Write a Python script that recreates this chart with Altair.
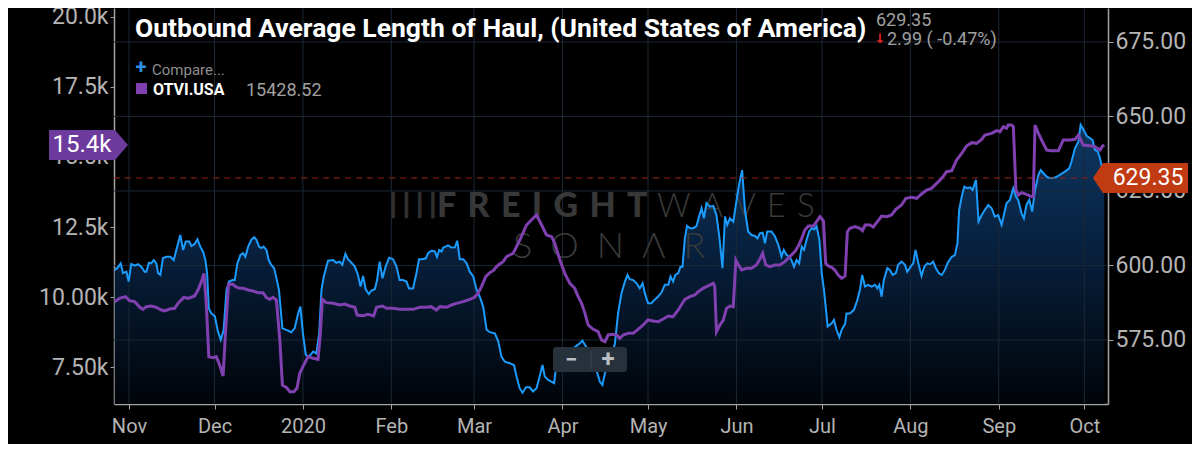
import altair as alt
import pandas as pd

# ---------------- data ----------------
BASE_DATE = "2019-11-01"   # day 0 of the day offsets below

LOH_DAYS = [
    -5.0, -4.2, -2.9, -2.1, -0.9, -0.1, 0.8, 2.0, 3.2, 4.3, 5.5, 6.1, 7.0, 7.8, 8.7, 9.6, 10.2, 11.0,
    11.9, 13.1, 14.5, 15.7, 16.6, 18.0, 19.0, 19.9, 21.1, 21.9, 23.0, 24.0, 25.0, 26.0, 26.8, 27.4,
    28.0, 28.9, 30.1, 31.2, 32.2, 33.2, 34.2, 35.1, 36.3, 37.1, 38.0, 39.1, 40.0, 40.8, 41.8, 42.9,
    43.9, 44.7, 45.6, 46.4, 47.2, 48.2, 49.0, 49.9, 50.9, 51.7, 52.6, 53.8, 55.2, 56.9, 58.1, 59.3,
    60.1, 61.0, 62.0, 63.1, 64.6, 65.7, 66.7, 67.5, 68.3, 69.8, 71.6, 72.7, 73.9, 74.8, 75.9, 76.8,
    78.0, 79.2, 80.3, 81.2, 82.1, 83.0, 84.1, 85.0, 86.2, 87.0, 87.9, 88.9, 90.0, 91.2, 92.6, 93.8,
    94.9, 96.1, 97.3, 98.2, 99.6, 100.8, 101.7, 102.9, 104.1, 105.0, 106.1, 107.2, 108.0, 108.8,
    109.6, 110.2, 111.0, 111.9, 113.1, 114.3, 115.1, 116.0, 117.2, 118.4, 119.5, 120.7, 121.9, 123.0,
    124.2, 125.4, 126.5, 128.3, 129.5, 130.6, 131.8, 133.5, 135.0, 135.9, 137.0, 138.0, 139.2, 140.5,
    141.7, 142.9, 144.0, 145.0, 145.8, 147.0, 148.1, 149.1, 149.9, 151.1, 152.2, 153.4, 154.6, 155.8,
    156.9, 158.1, 159.0, 160.2, 161.4, 162.8, 163.9, 165.1, 166.0, 166.9, 168.0, 169.2, 170.4, 171.5,
    172.7, 173.9, 174.8, 175.6, 176.8, 178.0, 179.1, 180.1, 180.9, 182.0, 183.2, 184.4, 185.5, 186.7,
    187.9, 189.1, 189.9, 190.8, 191.6, 192.6, 193.4, 194.1, 194.9, 195.7, 196.7, 197.8, 199.0, 199.9,
    200.8, 201.6, 202.5, 203.7, 204.9, 206.0, 207.0, 208.1, 209.0, 209.8, 210.7, 211.9, 212.8, 214.0,
    215.0, 216.0, 217.1, 218.3, 219.5, 220.4, 221.2, 222.2, 223.0, 223.8, 225.3, 226.5, 227.7, 228.8,
    229.6, 230.6, 231.5, 232.3, 233.2, 234.1, 235.0, 235.9, 236.7, 237.6, 238.5, 239.4, 240.3, 241.1,
    242.1, 242.9, 243.7, 245.0, 246.4, 247.2, 248.1, 249.1, 249.9, 251.1, 251.6, 252.8, 254.2, 255.4,
    256.3, 257.1, 258.1, 259.2, 260.4, 261.6, 262.4, 263.1, 263.9, 264.7, 265.9, 266.8, 267.8, 268.9,
    269.7, 270.9, 272.1, 272.9, 274.1, 275.0, 275.8, 276.8, 277.9, 278.9, 279.9, 280.9, 282.0, 282.9,
    284.0, 285.0, 286.1, 287.1, 288.5, 289.6, 290.5, 291.1, 292.0, 292.9, 294.0, 294.9, 295.8, 297.0,
    297.9, 299.0, 300.1, 301.3, 302.5, 303.6, 304.8, 306.0, 306.9, 307.7, 308.9, 310.1, 311.0, 311.8,
    313.0, 313.8, 314.7, 315.7, 316.7, 317.7, 318.9, 319.7, 320.9, 322.0, 323.5, 325.0, 326.4, 328.2,
    329.7, 330.5, 331.7, 332.9, 333.7, 334.6, 335.8, 337.0, 337.9, 338.7, 339.7, 340.5, 341.3, 342.0,
]
LOH_VALUES = [
    598.5, 599.0, 600.7, 597.4, 597.9, 594.6, 600.5, 599.9, 600.4, 599.6, 597.9, 597.9, 600.9, 600.7, 601.8, 600.7, 597.4, 596.8,
    602.4, 602.9, 602.9, 601.8, 605.2, 610.2, 605.2, 608.0, 608.0, 606.5, 607.2, 608.8, 606.3, 604.6, 601.8, 597.4,
    585.6, 583.9, 583.0, 577.8, 575.0, 578.4, 591.8, 594.6, 595.1, 595.1, 600.7, 603.5, 604.1, 602.9, 606.3, 608.6,
    609.5, 608.6, 606.3, 605.8, 606.3, 605.2, 601.8, 600.2, 599.1, 595.7, 591.8, 578.9, 578.4, 577.6, 578.9, 583.9,
    586.2, 577.2, 570.0, 569.4, 571.1, 570.5, 577.2, 591.8, 596.3, 601.6, 601.8, 600.9, 601.3, 600.2, 603.9, 602.1,
    600.9, 599.6, 596.8, 592.9, 596.5, 592.0, 590.4, 591.6, 592.0, 595.1, 601.3, 595.7, 599.6, 602.6, 602.1, 599.6,
    595.1, 595.1, 594.6, 592.3, 592.3, 597.4, 602.1, 602.1, 602.4, 604.3, 604.9, 604.7, 602.9, 605.2,
    604.7, 606.0, 606.3, 606.7, 606.0, 606.1, 608.3, 602.1, 602.1, 600.7, 597.9, 596.3, 591.8, 589.5,
    586.2, 578.4, 577.6, 577.2, 574.5, 569.4, 567.7, 567.2, 566.6, 562.7, 558.8, 557.3, 559.1, 559.1,
    557.7, 558.8, 562.7, 566.6, 562.7, 561.6, 561.0, 560.5, 567.2, 570.5, 571.4, 572.2, 572.2, 572.2,
    573.0, 573.9, 574.8, 572.8, 571.4, 570.5, 564.9, 561.0, 559.9, 563.8, 567.2, 569.4, 573.9, 583.9,
    590.7, 594.6, 596.8, 595.4, 595.1, 594.0, 592.3, 594.0, 590.7, 587.3, 587.3, 588.6, 589.5, 590.9,
    593.5, 593.5, 596.3, 594.6, 596.8, 597.4, 599.6, 599.6, 609.0, 613.3, 612.5, 612.5, 613.2, 616.4,
    619.2, 615.8, 620.9, 619.7, 620.0, 616.9, 609.7, 599.1, 616.4, 613.6, 615.8, 614.7, 620.3, 627.6,
    632.0, 618.6, 611.4, 610.2, 609.9, 609.1, 610.8, 611.0, 607.4, 611.4, 611.4, 609.7, 606.9, 603.0,
    605.2, 603.5, 603.0, 601.8, 599.6, 601.8, 600.7, 606.3, 605.2, 608.6, 611.4, 612.5, 612.1, 613.2,
    608.6, 597.4, 591.8, 579.5, 580.6, 581.7, 578.4, 575.9, 578.4, 580.4, 583.9, 583.9, 585.1, 588.4,
    591.8, 596.8, 592.9, 593.5, 592.9, 593.5, 592.3, 593.5, 589.5, 595.1, 599.1, 598.5, 596.8, 597.4,
    600.2, 601.3, 600.2, 597.9, 599.6, 600.7, 605.2, 600.7, 596.5, 599.6, 600.7, 600.4, 601.3, 599.1,
    597.4, 596.8, 598.5, 600.9, 602.9, 603.5, 607.4, 618.6, 623.1, 626.4, 625.9, 626.2, 625.3, 628.7,
    614.7, 616.9, 618.6, 620.3, 619.2, 616.4, 616.9, 613.6, 617.5, 620.9, 622.0, 625.9, 623.1, 622.0,
    617.5, 615.8, 620.3, 622.0, 618.1, 625.3, 630.4, 632.0, 630.7, 629.6, 629.3, 629.6, 630.4, 631.5,
    632.6, 634.9, 639.3, 641.5, 647.2, 645.7, 643.5, 642.7, 642.1, 638.8, 638.2, 636.0, 632.3, 629.35,
]

OTVI_DAYS = [
    -5.0, -3.3, -1.2, 0.2, 2.0, 3.8, 4.9, 6.1, 7.8, 9.6, 11.4, 12.5, 14.3, 16.0, 17.2, 19.2, 20.7, 23.0,
    24.2, 25.4, 26.3, 27.1, 28.0, 29.5, 30.6, 31.8, 33.0, 33.9, 34.9, 36.3, 37.4, 38.8, 40.0, 41.8,
    43.5, 45.3, 47.0, 48.2, 49.4, 50.5, 51.7, 52.9, 53.8, 55.2, 56.4, 57.8, 58.9, 59.9, 61.0, 62.8,
    64.6, 66.3, 67.1, 67.8, 69.2, 71.6, 73.9, 75.7, 77.4, 79.2, 80.0, 82.1, 83.8, 85.8, 86.8, 88.9,
    90.3, 92.6, 94.9, 97.3, 99.6, 102.0, 104.3, 106.0, 107.8, 109.0, 111.3, 113.1, 114.8, 117.2, 119.5,
    121.2, 122.4, 123.6, 125.1, 126.5, 127.7, 128.9, 130.0, 131.2, 132.4, 133.5, 134.7, 135.9, 137.6,
    139.4, 141.1, 142.9, 144.7, 146.4, 148.2, 149.3, 151.1, 152.8, 154.6, 156.3, 157.5, 158.7, 159.9,
    161.0, 162.8, 164.5, 165.7, 166.9, 168.0, 169.8, 171.0, 172.1, 173.3, 175.0, 176.8, 178.5, 180.3,
    182.0, 183.8, 185.6, 187.3, 189.1, 190.8, 192.6, 194.9, 196.7, 198.4, 199.6, 201.3, 202.5, 204.9,
    205.4, 206.0, 207.2, 208.4, 209.5, 210.7, 211.9, 212.8, 213.6, 214.8, 216.5, 218.3, 220.0, 221.2,
    222.2, 223.3, 224.7, 226.5, 228.2, 230.0, 231.7, 233.5, 234.7, 235.9, 237.0, 238.2, 240.0, 241.1,
    242.3, 243.5, 244.3, 245.2, 246.4, 247.5, 248.7, 249.9, 251.1, 251.9, 252.8, 254.6, 256.3, 257.2,
    258.1, 259.8, 261.0, 262.7, 263.9, 265.7, 267.4, 268.9, 270.9, 272.4, 274.4, 276.2, 277.9, 279.7,
    281.4, 283.2, 285.0, 286.7, 288.5, 290.2, 292.0, 293.7, 295.5, 297.2, 299.0, 300.1, 302.5, 304.2,
    305.4, 306.6, 307.7, 308.3, 309.5, 310.1, 311.0, 311.8, 313.0, 314.7, 316.5, 317.1, 317.7, 318.9,
    320.0, 321.8, 323.5, 325.9, 327.6, 330.0, 331.7, 332.9, 334.6, 337.0, 338.7, 340.5, 341.3, 342.0,
]
OTVI_VALUES = [
    9834, 9953, 10012, 9869, 9834, 9631, 9560, 9655, 9679, 9631, 9536, 9500, 9572, 9596, 9774, 9988, 9953, 10036,
    10250, 10548, 10845, 9774, 7869, 7833, 7869, 7571, 7179, 8821, 10452, 10464, 10369, 10310, 10310, 10250,
    10214, 10155, 10155, 9976, 9917, 9988, 9893, 8464, 6857, 6774, 6619, 6619, 6738, 7274, 7512, 7869,
    7810, 7774, 8703, 9917, 9798, 9774, 9714, 9750, 9679, 9631, 9357, 9333, 9381, 9321, 9631, 9679,
    9596, 9596, 9560, 9560, 9560, 9631, 9631, 9655, 9536, 9655, 9631, 9714, 9774, 9834, 9917,
    9988, 10131, 10369, 10726, 10869, 10940, 11083, 11179, 11262, 11440, 11500, 11560, 11798, 12155,
    12571, 12750, 12929, 12571, 12214, 12155, 11917, 11321, 10845, 10488, 10310, 10012, 9774, 9417,
    9000, 8845, 8762, 8464, 8405, 8643, 8667, 8643, 8524, 8643, 8703, 8703, 8845, 9000,
    9179, 9143, 9119, 9214, 9321, 9298, 9536, 9917, 10012, 10071, 10190, 10310, 10369, 10488,
    10369, 8762, 9000, 9179, 9596, 9679, 9655, 11321, 11167, 10964, 11024, 11024, 11143, 11345,
    11560, 11143, 11083, 11143, 11143, 11262, 11440, 11619, 11821, 12095, 12393, 12536, 12536, 12690,
    12869, 12726, 11202, 11107, 11060, 10964, 10786, 10667, 10750, 12333, 12452, 12512, 12452, 12369,
    12571, 12571, 12500, 12726, 12893, 12869, 12929, 13131, 13286, 13524, 13560, 13524, 13679, 13821,
    13881, 14060, 14238, 14476, 14512, 14893, 15131, 15393, 15512, 15488, 15631, 15786, 15845, 15941,
    15905, 16083, 16024, 16143, 16143, 16083, 13821, 13643, 13726, 13667, 13583, 13583, 16143, 15845,
    15607, 15250, 15226, 15226, 15607, 15607, 15631, 15786, 15429, 15405, 15369, 15250, 15380, 15428.52,
]

TITLE = "Outbound Average Length of Haul, (United States of America)"
LAST_LOH = 629.35
LOH_CHANGE = "2.99 ( -0.47%)"
LAST_OTVI = 15428.52
OTVI_NAME = "OTVI.USA"
COMPARE = "Compare..."

MONTH_TICKS = ["2019-11-01", "2019-12-01", "2020-01-01", "2020-02-01", "2020-03-01", "2020-04-01",
               "2020-05-01", "2020-06-01", "2020-07-01", "2020-08-01", "2020-09-01", "2020-10-01"]
LEFT_TICKS = [7500, 10000, 12500, 15000, 17500, 20000]
LEFT_LABELS = ["7.50k", "10.00k", "12.5k", "15.0k", "17.5k", "20.0k"]
RIGHT_TICKS = [575, 600, 625, 650, 675]

# ---------------- frames ----------------
base = pd.Timestamp(BASE_DATE)
loh = pd.DataFrame({"date": base + pd.to_timedelta(LOH_DAYS, unit="D"), "value": LOH_VALUES})
otvi = pd.DataFrame({"date": base + pd.to_timedelta(OTVI_DAYS, unit="D"), "value": OTVI_VALUES})
months = pd.DataFrame({"date": pd.to_datetime(MONTH_TICKS)})
rticks = pd.DataFrame({"value": RIGHT_TICKS})
last_loh = pd.DataFrame({"value": [LAST_LOH]})
last_otvi = pd.DataFrame({"value": [LAST_OTVI]})
one = pd.DataFrame({"k": [0]})

W, H = 994, 396
BLUE = "#1b9cfc"
PURPLE = "#8040b0"
GRID = "#1c2836"
AXIS = "#a3a3a3"
LABEL = "#b4b4b4"
FONT = "Roboto"

x_scale = alt.Scale(domain=[alt.DateTime(year=2019, month=10, date=26, hours=18),
                            alt.DateTime(year=2020, month=10, date=9, hours=7)])
blue_scale = alt.Scale(domain=[553.5, 686.4], nice=False, zero=False)
purple_scale = alt.Scale(domain=[6179, 20321], nice=False, zero=False)

x_axis = alt.Axis(
    values=[alt.DateTime(year=int(m[:4]), month=int(m[5:7]), date=1) for m in MONTH_TICKS],
    labelExpr="month(datum.value) == 0 ? timeFormat(datum.value, '%Y') : timeFormat(datum.value, '%b')",
    grid=False, domainColor=AXIS, domainWidth=1.5, tickColor=AXIS, tickSize=5,
    labelColor=LABEL, labelFont=FONT, labelFontSize=20, labelPadding=7, title=None,
)
left_expr = " : ".join(f"datum.value == {v} ? '{l}'" for v, l in zip(LEFT_TICKS, LEFT_LABELS)) + " : ''"
left_axis = alt.Axis(
    orient="left", values=LEFT_TICKS, labelExpr=left_expr, grid=False,
    domainColor=AXIS, domainWidth=1.5, tickColor=AXIS, tickSize=4,
    labelColor=LABEL, labelFont=FONT, labelFontSize=23, labelPadding=2, title=None,
)
right_axis = alt.Axis(
    orient="right", values=RIGHT_TICKS, format=".2f", grid=False,
    domainColor=AXIS, domainWidth=1.5, tickColor=AXIS, tickSize=5,
    labelColor=LABEL, labelFont=FONT, labelFontSize=23, labelPadding=2, title=None,
)

X = alt.X("date:T", scale=x_scale, axis=x_axis)
YB = alt.Y("value:Q", scale=blue_scale, axis=None)
YP = alt.Y("value:Q", scale=purple_scale, axis=None)

gradient = alt.Gradient(
    gradient="linear",
    stops=[alt.GradientStop(color="#0e3763", offset=0),
           alt.GradientStop(color="#07203d", offset=0.45),
           alt.GradientStop(color="#010409", offset=1)],
    x1=0, x2=0, y1=0, y2=1,
)

area = alt.Chart(loh).mark_area(color=gradient).encode(
    x=X,
    y=alt.Y("value:Q", scale=blue_scale, axis=right_axis),
    y2=alt.datum(553.5),
)

vgrid = alt.Chart(months).mark_rule(color=GRID, strokeWidth=1).encode(x=X)
hgrid = alt.Chart(rticks).mark_rule(color=GRID, strokeWidth=1).encode(y=YB)


def txt(text, x, y, size, color, weight="normal", font=FONT, align="left", baseline="alphabetic", opacity=1.0):
    return alt.Chart(one).mark_text(
        text=text, align=align, baseline=baseline, fontSize=size, font=font,
        fontWeight=weight, color=color, opacity=opacity,
    ).encode(x=alt.value(x), y=alt.value(y))


# watermark
wm = [
    txt("\u2503\u2503\u2503\u2503", 299, 198, 22, "#303030", weight="bold", font="DejaVu Sans", align="center", baseline="middle"),
    txt("\u2004".join("FREIGHT"), 323, 209, 34, "#383838", weight=900, font="Lato"),
    txt("\u2004".join("WAVES"), 543, 209, 33, "#3a3a3a", weight=300, font="Lato"),
    txt("\u2002".join("SON\u039bR"), 399, 250, 36, "#3a3a3a", weight=300, font="Lato"),
]

blue_line = alt.Chart(loh).mark_line(color=BLUE, strokeWidth=2).encode(x=X, y=YB)
purple_line = alt.Chart(otvi).mark_line(color=PURPLE, strokeWidth=3).encode(
    x=X, y=alt.Y("value:Q", scale=purple_scale, axis=left_axis))

last_rule = alt.Chart(last_loh).mark_rule(color="#9a2410", strokeDash=[6, 5], strokeWidth=1).encode(
    y=YB, x=alt.value(0), x2=alt.value(W - 18))

# value badges
ORANGE_TAG = "M-1,0 L-0.79,-0.316 L1,-0.316 L1,0.316 L-0.79,0.316 Z"
PURPLE_TAG = "M-1,-0.38 L0.671,-0.38 L1,0 L0.671,0.38 L-1,0.38 Z"
loh_badge = alt.Chart(last_loh).mark_point(
    shape=ORANGE_TAG, size=9025, filled=True, fill="#c03a12", opacity=1, strokeWidth=0
).encode(y=YB, x=alt.value(1026.5))
loh_badge_text = alt.Chart(last_loh).mark_text(
    align="center", baseline="middle", fontSize=23, font=FONT, color="#ffffff"
).encode(y=YB, x=alt.value(1034), text=alt.Text("value:Q", format=".2f"))
otvi_badge = alt.Chart(last_otvi).mark_point(
    shape=PURPLE_TAG, size=6241, filled=True, fill="#6d3a9e", opacity=1, strokeWidth=0
).encode(y=YP, x=alt.value(-25.5))
otvi_badge_text = alt.Chart(last_otvi).mark_text(
    align="center", baseline="middle", fontSize=24, font=FONT, color="#ffffff"
).encode(y=YP, x=alt.value(-32), text=alt.Text("value:Q", format=".3s"))

# header texts
header = [
    txt(TITLE, 21, 29, 26.5, "#ffffff", weight="bold"),
    txt(f"{LAST_LOH:.2f}", 762, 18, 18, "#a0a0a0"),
    txt("\u2193", 766, 31, 13, "#e8232b", weight="bold", font="DejaVu Sans", align="center", baseline="middle"),
    txt(LOH_CHANGE, 773, 37, 18, "#a0a0a0"),
    txt("+", 27, 60, 20, "#2f8fe6", weight="bold", align="center", baseline="middle"),
    txt(COMPARE, 38, 67, 15, "#8d8d8d"),
    txt(OTVI_NAME, 39, 87, 16, "#ffffff", weight="bold"),
    txt(f"{LAST_OTVI:.2f}", 132, 88, 18, "#a0a0a0"),
]
legend_square = alt.Chart(one).mark_square(size=121, color=PURPLE, opacity=1).encode(
    x=alt.value(27.5), y=alt.value(80.5))

# zoom buttons
zoom_box = alt.Chart(one).mark_rect(color="#27313b", cornerRadius=3).encode(
    x=alt.value(439), x2=alt.value(513), y=alt.value(339), y2=alt.value(364))
zoom_div = alt.Chart(one).mark_rule(color="#3e4a55").encode(
    x=alt.value(477), y=alt.value(343), y2=alt.value(361))
zoom_txt = [
    txt("\u2212", 457, 352, 22, "#b9bfc5", weight="bold", align="center", baseline="middle"),
    txt("+", 494, 352, 24, "#b9bfc5", weight="bold", align="center", baseline="middle"),
]

chart = alt.layer(
    area, vgrid, hgrid, *wm, blue_line, last_rule, purple_line,
    otvi_badge, otvi_badge_text, loh_badge, loh_badge_text,
    *header, legend_square, zoom_box, zoom_div, *zoom_txt,
).resolve_scale(y="independent").properties(
    width=W, height=H,
    padding={"left": 106, "top": 0, "right": 84, "bottom": 40},
    autosize=alt.AutoSizeParams(type="none"),
    background="#000000",
).configure_view(stroke=None)

chart.save("out.html", embed_options={"renderer": "svg", "actions": False})
